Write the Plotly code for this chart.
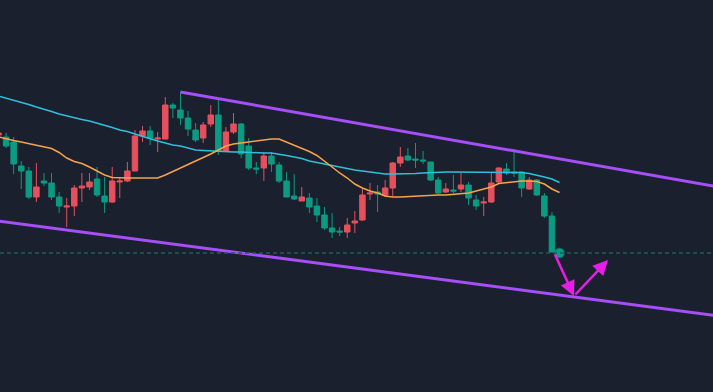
import plotly.graph_objects as go

# ---- candle data (price units) ----
idx = list(range(74))
opens = [26.5, 26.3, 25.8, 23.4, 22.9, 20.3, 21.9, 21.7, 20.3, 19.3,
         19.4, 21.2, 21.3, 22.1, 20.4, 19.8, 21.8, 21.9, 22.9, 26.4,
         26.9, 26.1, 26.1, 29.5, 29.0, 28.2, 27.0, 26.2, 27.6, 28.5,
         24.9, 26.8, 27.6, 25.4, 23.2, 23.2, 24.4, 23.5, 21.9, 20.4,
         19.9, 20.2, 19.4, 18.5, 17.2, 16.9, 16.8, 17.7, 18.0, 20.6,
         20.8, 20.5, 21.2, 23.7, 24.4, 24.1, 24.0, 23.8, 22.0, 20.8,
         21.0, 21.1, 21.5, 20.0, 19.7, 19.8, 21.8, 23.1, 22.8, 22.8,
         21.1, 22.0, 20.4, 18.4]
highs = [26.9, 26.7, 26.3, 23.9, 23.3, 23.7, 22.7, 22.7, 20.8, 20.2,
         21.5, 22.7, 22.7, 23.3, 22.3, 23.3, 22.3, 23.8, 27.0, 27.4,
         27.4, 26.8, 30.3, 29.7, 30.8, 28.9, 27.7, 27.8, 29.5, 30.0,
         27.3, 28.7, 27.7, 26.2, 23.8, 24.8, 24.8, 23.8, 22.8, 22.6,
         21.3, 20.7, 20.2, 19.3, 18.7, 17.3, 18.2, 18.9, 21.2, 21.7,
         21.5, 22.0, 23.8, 25.3, 25.2, 25.7, 24.9, 23.8, 22.3, 21.7,
         22.5, 22.7, 21.8, 20.5, 20.3, 22.7, 23.3, 23.7, 25.1, 22.8,
         22.3, 22.1, 20.7, 18.8]
lows = [26.3, 25.2, 22.6, 21.1, 20.1, 19.8, 21.4, 20.0, 18.7, 17.3,
        18.4, 19.8, 21.0, 20.3, 18.7, 19.7, 20.2, 21.8, 22.9, 25.8,
        25.5, 24.8, 26.1, 28.2, 27.5, 26.4, 25.8, 25.7, 27.3, 24.5,
        24.8, 26.6, 24.2, 23.0, 22.6, 21.9, 22.8, 21.7, 20.3, 20.0,
        19.9, 18.7, 17.8, 17.0, 16.2, 16.4, 16.2, 16.7, 17.9, 20.0,
        18.8, 20.3, 20.4, 23.3, 23.9, 23.2, 23.6, 21.9, 20.6, 20.7,
        20.7, 20.8, 19.5, 19.0, 18.4, 19.7, 21.7, 22.5, 22.3, 20.3,
        21.0, 20.4, 18.2, 14.8]
closes = [26.7, 25.4, 23.6, 22.9, 20.3, 21.3, 21.7, 20.3, 19.4, 19.4,
          21.2, 21.4, 21.8, 20.5, 19.8, 21.9, 21.9, 22.9, 26.4, 26.9,
          26.2, 26.2, 29.5, 29.2, 28.2, 27.1, 26.0, 27.5, 28.5, 24.9,
          26.8, 27.6, 24.6, 23.2, 23.1, 24.4, 23.6, 21.9, 20.3, 20.1,
          20.3, 19.3, 18.5, 17.2, 16.8, 16.8, 17.5, 17.9, 20.5, 20.7,
          20.6, 21.2, 23.7, 24.3, 24.0, 24.0, 23.9, 22.0, 20.7, 21.1,
          20.9, 21.5, 20.2, 19.4, 19.8, 21.7, 23.2, 22.7, 22.7, 21.2,
          22.0, 20.5, 18.4, 14.8]

# ---- moving averages (one value per bar, plus current bar) ----
ma_idx = list(range(75))
ma_slow = [30.4, 30.2, 30.0, 29.8, 29.55, 29.3, 29.1, 28.85, 28.6, 28.4,
           28.25, 28.05, 27.9, 27.7, 27.45, 27.25, 27.0, 26.85, 26.6, 26.35,
           26.1, 25.9, 25.7, 25.5, 25.4, 25.2, 25.0, 24.95, 24.9, 24.9,
           24.85, 24.8, 24.8, 24.75, 24.7, 24.7, 24.7, 24.6, 24.45, 24.3,
           24.15, 23.9, 23.75, 23.55, 23.4, 23.3, 23.15, 23.0, 22.9, 22.8,
           22.7, 22.6, 22.6, 22.6, 22.6, 22.65, 22.7, 22.75, 22.8, 22.8,
           22.8, 22.8, 22.8, 22.8, 22.8, 22.8, 22.8, 22.8, 22.8, 22.75,
           22.65, 22.5, 22.3, 22.1, 21.75]
ma_fast = [26.3, 26.1, 25.95, 25.8, 25.65, 25.45, 25.3, 25.15, 24.75, 24.2,
           23.85, 23.65, 23.3, 22.9, 22.5, 22.25, 22.2, 22.2, 22.2, 22.2,
           22.2, 22.2, 22.5, 22.85, 23.2, 23.5, 23.85, 24.2, 24.6, 25.0,
           25.4, 25.6, 25.7, 25.75, 25.9, 26.0, 26.1, 26.1, 25.8, 25.5,
           25.15, 24.85, 24.45, 23.9, 23.3, 22.7, 22.2, 21.6, 21.2, 20.9,
           20.7, 20.4, 20.3, 20.3, 20.35, 20.35, 20.4, 20.45, 20.5, 20.5,
           20.55, 20.65, 20.7, 20.9, 21.1, 21.3, 21.65, 21.75, 21.8, 21.9,
           21.9, 21.85, 21.6, 21.1, 20.75]

# ---- channel lines (index, price) ----
upper_x = [24, 95]
upper_y = [30.8, 21.3]
lower_x = [0, 95]
lower_y = [17.9, 8.4]

last_price = 14.7
current_idx = 74

# arrows: (tail_x, tail_y, head_x, head_y)
arrow1 = (73.3, 14.7, 75.9, 10.4)
arrow2 = (75.9, 10.4, 80.4, 14.0)

BG = "#1a202d"
RED = "#e5505c"
GREEN = "#0b9b83"
PURPLE = "#a64ef7"
MAGENTA = "#e61ee6"

fig = go.Figure()

fig.add_trace(go.Scatter(x=upper_x, y=upper_y, mode="lines",
                         line=dict(color=PURPLE, width=3), hoverinfo="skip"))
fig.add_trace(go.Scatter(x=lower_x, y=lower_y, mode="lines",
                         line=dict(color=PURPLE, width=3), hoverinfo="skip"))

fig.add_trace(go.Candlestick(
    x=idx, open=opens, high=highs, low=lows, close=closes,
    increasing=dict(line=dict(color=RED, width=1), fillcolor=RED),
    decreasing=dict(line=dict(color=GREEN, width=1), fillcolor=GREEN),
    whiskerwidth=0,
))

fig.add_trace(go.Scatter(x=ma_idx, y=ma_slow, mode="lines",
                         line=dict(color="#2ec0dc", width=1.5), hoverinfo="skip"))
fig.add_trace(go.Scatter(x=ma_idx, y=ma_fast, mode="lines",
                         line=dict(color="#f5a34c", width=1.5), hoverinfo="skip"))

fig.add_shape(type="line", xref="paper", x0=0, x1=1, yref="y",
              y0=last_price, y1=last_price,
              line=dict(color="#1f5c57", width=1.5, dash="4px,3px"))

fig.add_trace(go.Scatter(x=[current_idx], y=[last_price], mode="markers",
                         marker=dict(color=GREEN, size=9,
                                     line=dict(color="rgba(20,160,135,0.4)", width=2)),
                         hoverinfo="skip"))

for (tx, ty, hx, hy) in (arrow1, arrow2):
    fig.add_annotation(x=hx, y=hy, ax=tx, ay=ty, xref="x", yref="y",
                       axref="x", ayref="y", text="", showarrow=True,
                       arrowhead=2, arrowsize=1.2, arrowwidth=2.5,
                       arrowcolor=MAGENTA)

fig.update_layout(
    width=713, height=392,
    margin=dict(l=0, r=0, t=0, b=0),
    paper_bgcolor=BG, plot_bgcolor=BG,
    showlegend=False,
    boxgap=0.15, boxgroupgap=0.15,
    xaxis=dict(range=[0.2, 94.24], visible=False, rangeslider=dict(visible=False),
               showgrid=False, zeroline=False),
    yaxis=dict(range=[0.8, 40], visible=False, showgrid=False, zeroline=False),
)

fig.write_html("out.html", config={"displayModeBar": False},
               post_script="document.body.style.margin='0';document.body.style.overflow='hidden';document.body.style.background='" + BG + "';")
